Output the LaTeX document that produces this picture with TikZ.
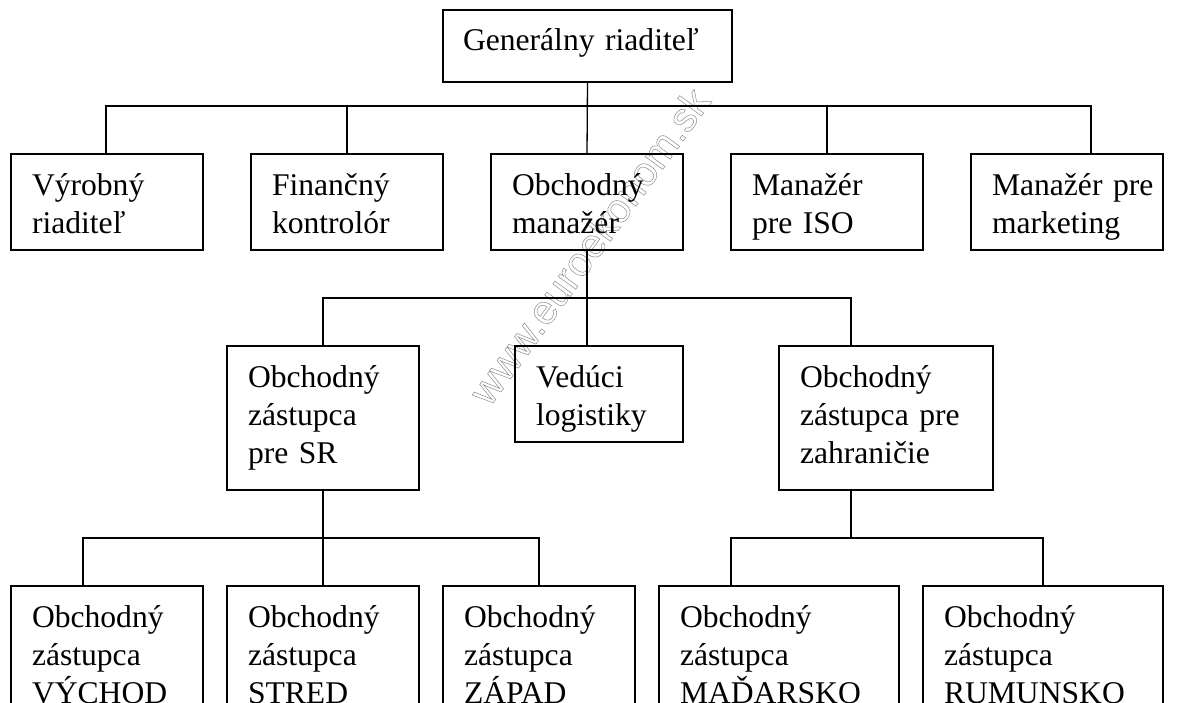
\documentclass[tikz,border=0pt]{standalone}
\usepackage{fontspec}
\setmainfont{Liberation Serif}
\newfontfamily\wmfont{Liberation Sans}
\newcommand\myoutline[1]{\special{pdf:literal direct 0.5 w 1 Tr}#1\special{pdf:literal direct 0 Tr}}
\begin{document}
\begin{tikzpicture}[x=1pt,y=-1pt,
  box/.style={draw, line width=1.3pt, rectangle, inner sep=0pt, outer sep=0pt, anchor=north west},
  conn/.style={line width=1.3pt},
  txt/.style={anchor=base west, inner sep=0pt, outer sep=0pt, text width=260pt, align=left,
              font=\fontsize{31.6}{38}\selectfont},
  wm/.style={inner sep=0pt, text=black!45, font=\wmfont\fontsize{41}{41}\selectfont}]
\useasboundingbox (0,0) rectangle (1185,702);
\clip (0,0) rectangle (1185,702);
\fill[white] (0,0) rectangle (1185,702);

% watermark
\node[wm, rotate=54] (wmk) at (589,246) {\myoutline{www.euroekonom.sk}};

% top
\node[box, minimum width=289pt, minimum height=72pt] (g) at (443,10) {};
% level 1
\node[box, minimum width=192pt, minimum height=96pt] (b1) at (11,154) {};
\node[box, minimum width=192pt, minimum height=96pt] (b2) at (251,154) {};
\node[box, minimum width=192pt, minimum height=96pt] (b3) at (491,154) {};
\node[box, minimum width=192pt, minimum height=96pt] (b4) at (731,154) {};
\node[box, minimum width=192pt, minimum height=96pt] (b5) at (971,154) {};
% level 2
\node[box, minimum width=192pt, minimum height=144pt] (sr) at (227,346) {};
\node[box, minimum width=168pt, minimum height=96pt] (vl) at (515,346) {};
\node[box, minimum width=214pt, minimum height=144pt] (zh) at (779,346) {};
% level 3
\node[box, minimum width=192pt, minimum height=144pt] (c1) at (11,586) {};
\node[box, minimum width=192pt, minimum height=144pt] (c2) at (227,586) {};
\node[box, minimum width=192pt, minimum height=144pt] (c3) at (443,586) {};
\node[box, minimum width=240pt, minimum height=144pt] (c4) at (659,586) {};
\node[box, minimum width=240pt, minimum height=144pt] (c5) at (923,586) {};

% texts
\node[txt] (tg) at ([shift={(20,40)}]g.north west) {Generálny riaditeľ};
\node[txt] (t1) at ([shift={(21,41)}]b1.north west) {Výrobný\\riaditeľ};
\node[txt] (t2) at ([shift={(21,41)}]b2.north west) {Finančný\\kontrolór};
\node[txt] (t3) at ([shift={(21,41)}]b3.north west) {Obchodný\\manažér};
\node[txt] (t4) at ([shift={(21,41)}]b4.north west) {Manažér\\pre ISO};
\node[txt] (t5) at ([shift={(21,41)}]b5.north west) {Manažér pre\\marketing};
\node[txt] (tsr) at ([shift={(21,41)}]sr.north west) {Obchodný\\zástupca\\pre SR};
\node[txt] (tvl) at ([shift={(21,41)}]vl.north west) {Vedúci\\logistiky};
\node[txt] (tzh) at ([shift={(21,41)}]zh.north west) {Obchodný\\zástupca pre\\zahraničie};
\node[txt] (tc1) at ([shift={(21,41)}]c1.north west) {Obchodný\\zástupca\\VÝCHOD};
\node[txt] (tc2) at ([shift={(21,41)}]c2.north west) {Obchodný\\zástupca\\STRED};
\node[txt] (tc3) at ([shift={(21,41)}]c3.north west) {Obchodný\\zástupca\\ZÁPAD};
\node[txt] (tc4) at ([shift={(21,41)}]c4.north west) {Obchodný\\zástupca\\MAĎARSKO};
\node[txt] (tc5) at ([shift={(21,41)}]c5.north west) {Obchodný\\zástupca\\RUMUNSKO};

% connection points
\coordinate (j1) at ([xshift=-1pt]b1.north);
\coordinate (j5) at ([xshift=24pt]b5.north);
\coordinate (bus1) at (587,106);
\coordinate (jzh) at ([xshift=-35pt]zh.north);
\coordinate (bus2) at (587,298);
\coordinate (jc1) at ([xshift=-24pt]c1.north);
\coordinate (jc4) at ([xshift=-48pt]c4.north);
\coordinate (bus3) at (323,538);
\coordinate (bus4) at (851,538);

% level 0 -> level 1
\draw[conn] (g.south) -- (b3.north);
\draw[conn] (j1) |- (bus1) -| (j5);
\draw[conn] (b2.north) -- (b2.north |- bus1);
\draw[conn] (b4.north) -- (b4.north |- bus1);
% level 1 -> level 2
\draw[conn] (b3.south) -- (b3.south |- vl.north);
\draw[conn] (sr.north) |- (bus2) -| (jzh);
% level 2 -> level 3
\draw[conn] (sr.south) -- (c2.north);
\draw[conn] (jc1) |- (bus3) -| (c3.north);
\draw[conn] (jzh |- zh.south) -- (bus4);
\draw[conn] (jc4) |- (bus4) -| (c5.north);
\end{tikzpicture}
\end{document}
